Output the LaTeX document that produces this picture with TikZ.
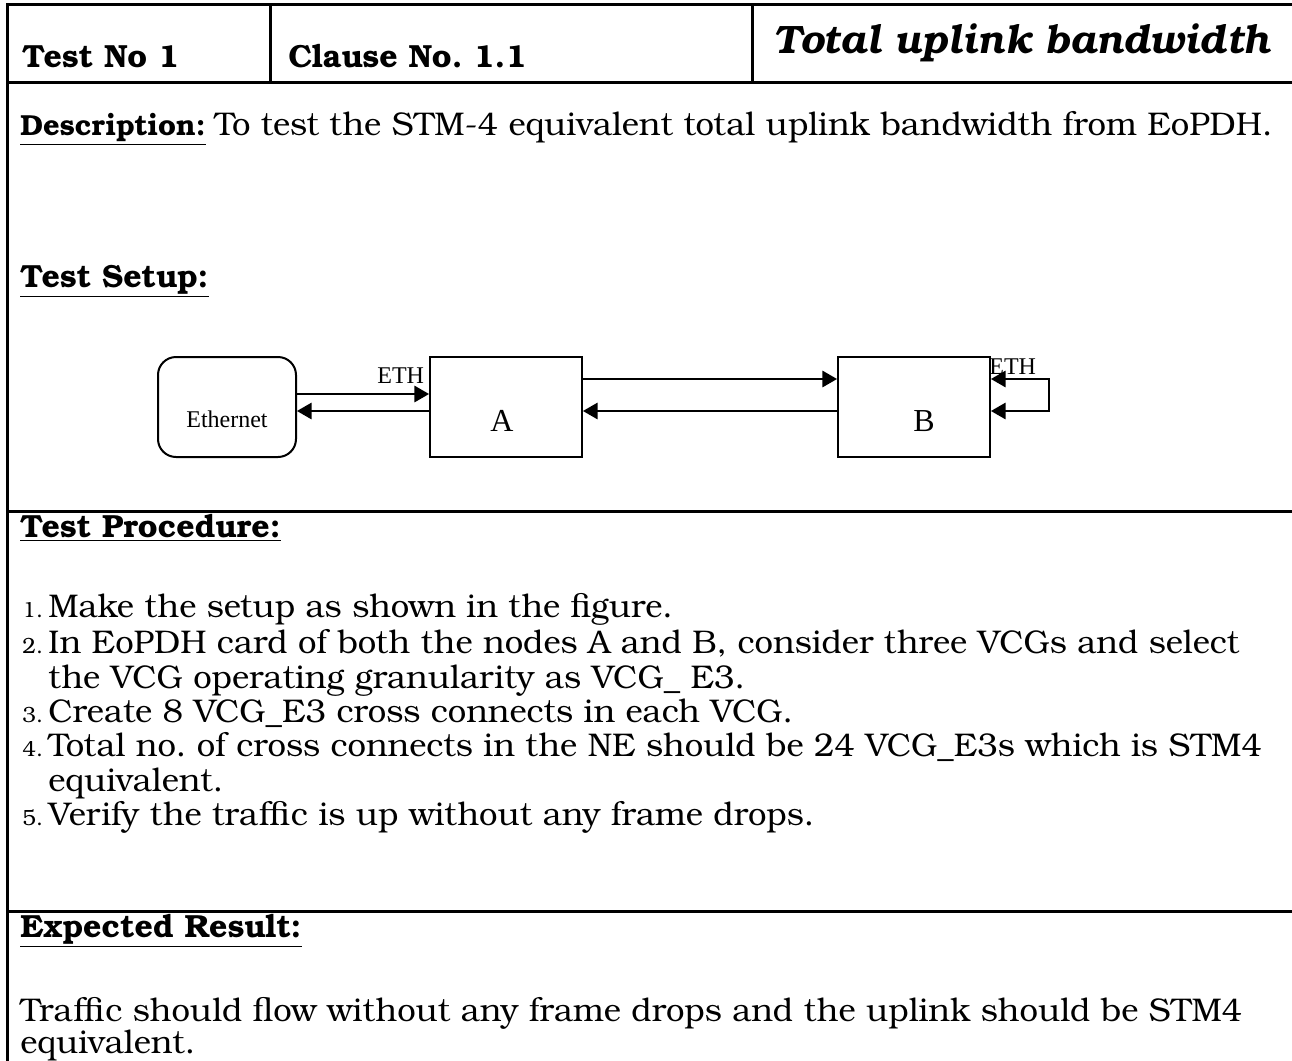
\documentclass[tikz,border=0pt]{standalone}
\usepackage{fontspec}
\setmainfont{TeX Gyre Bonum}
\newfontfamily\figfont{Liberation Serif}
\usetikzlibrary{arrows,positioning}
\frenchspacing

\begin{document}
\begin{tikzpicture}[%
    x=0.5pt, y=-0.5pt,          % work in reference pixels, y going down
    >=triangle 60,
    node distance=66pt,
    ]
% -------------------------------------------------
% Styles for the form and the setup sketch
\tikzset{
  rule/.style={line width=1.5pt},
  hdr/.style={anchor=base west, inner sep=0pt, font=\fontsize{16}{19}\selectfont\bfseries},
  ttl/.style={anchor=base west, inner sep=0pt, font=\fontsize{19.8}{23}\selectfont\bfseries\itshape},
  body/.style={anchor=base west, inner sep=0pt, font=\fontsize{16.4}{19}\selectfont},
  num/.style={anchor=base west, inner sep=0pt, font=\fontsize{11}{13}\selectfont},
  blk/.style={draw, line width=1pt, minimum height=50pt},
  lbl/.style={inner sep=0pt, font=\figfont\fontsize{12}{14}\selectfont},
  big/.style={inner sep=0pt, font=\figfont\fontsize{16}{19}\selectfont},
  conn/.style={->, draw, line width=1pt}
}
\useasboundingbox (0,0) rectangle (1292,1061);
% -------------------------------------------------
% Table rules
\draw [rule] (7,1061) -- (7,4) -- (1292,4);
\draw [rule] (7,82) -- (1292,82);
\draw [rule] (270,4) -- (270,82);
\draw [rule] (752,4) -- (752,82);
\draw [rule] (7,511) -- (1292,511);
\draw [rule] (7,911) -- (1292,911);

% Header row
\node [hdr] (testno) at (22,67) {Test No 1};
\node [hdr] (clause) at (288,67) {Clause No. 1.1};
\node [ttl] (title) at (773,53) {Total uplink bandwidth};

% Description and setup
\node [hdr, font=\fontsize{14.5}{18}\selectfont\bfseries] (desc) at (20,135)
  {\underline{Description:}};
\node [body, right=4pt of desc.base east, anchor=base west] (desctxt)
  {To test the STM-4 equivalent total uplink bandwidth from EoPDH.};
\node [hdr] (setup) at (20,287) {\underline{Test Setup:}};

% -------------------------------------------------
% Setup sketch
\node [blk, rounded corners=9pt, minimum width=69pt,
       label={[lbl, yshift=-6pt]center:Ethernet}] (eth) at (227,407) {};
\node [blk, minimum width=76pt, right=of eth,
       label={[big, yshift=-7pt, xshift=-2pt]center:A}] (nodeA) {};
\node [blk, minimum width=76pt, right=127pt of nodeA,
       label={[big, yshift=-7pt, xshift=5pt]center:B}] (nodeB) {};

\draw [conn] ([yshift=6.5pt]eth.east) -- ([yshift=6.5pt]nodeA.west)
  node [lbl, pos=1, anchor=south east, xshift=-2pt, yshift=5pt] (ethA) {ETH};
\draw [conn] ([yshift=-2pt]nodeA.west) -- ([yshift=-2pt]eth.east);
\draw [conn] ([yshift=14pt]nodeA.east) -- ([yshift=14pt]nodeB.west);
\draw [conn] ([yshift=-2pt]nodeB.west) -- ([yshift=-2pt]nodeA.east);
\draw [conn, <->] ([yshift=14pt]nodeB.east) -- ++(29pt,0) |- ([yshift=-2pt]nodeB.east);
\node [lbl, anchor=south west] (ethB) at ([xshift=-1pt, yshift=16pt]nodeB.east) {ETH};

% -------------------------------------------------
% Procedure
\node [hdr] (proc) at (20,537) {\underline{Test Procedure:}};
\foreach \n/\y/\t in {%
    1/617/{Make the setup as shown in the figure.},
    2/653/{In EoPDH card of both the nodes A and B, consider three VCGs and select},
    3/722/{Create 8 VCG\_E3 cross connects in each VCG.},
    4/756/{Total no. of cross connects in the NE should be 24 VCG\_E3s which is STM4},
    5/825/{Verify the traffic is up without any frame drops.}}
  {
  \node [num] (n\n) at (22,\y) {\n.};
  \node [body] (s\n) at (48,\y) {\t};
  }
\node [body] (s2b) at (48,688) {the VCG operating granularity as VCG\_ E3.};
\node [body] (s4b) at (48,791) {equivalent.};

% Result
\node [hdr] (result) at (20,937) {\underline{Expected Result:}};
\node [body] (res1) at (20,1021)
  {Traffic should flow without any frame drops and the uplink should be STM4};
\node [body] (res2) at (20,1053) {equivalent.};
% -------------------------------------------------
\end{tikzpicture}
\end{document}
